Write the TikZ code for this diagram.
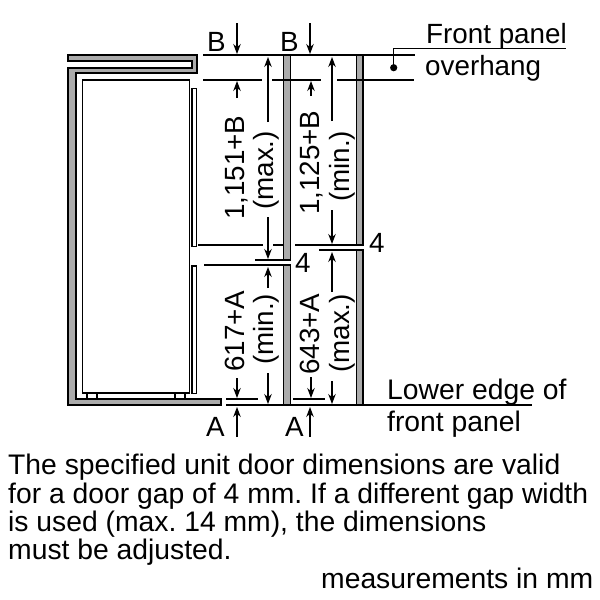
\documentclass[tikz,border=0pt]{standalone}
\usepackage{fontspec}
\setmainfont{Liberation Sans}
\usetikzlibrary{arrows.meta}
\tikzset{
  x=1pt,y=-1pt,
  wall/.style={draw=black,line width=1.6pt,fill=black!33,line join=miter},
  white part/.style={draw=black,line width=1.6pt,fill=white},
  dim/.style={draw=black,line width=1.2pt},
  arr/.style={draw=black,line width=1.1pt,-{Stealth[length=10pt,width=7.5pt]}},
  lab/.style={inner sep=0pt,font=\fontsize{27.8}{30}\selectfont\frenchspacing,anchor=base west,text=black},
  vlab/.style={lab,rotate=90},
  para/.style={lab,font=\fontsize{28.3}{30}\selectfont\frenchspacing},
}
\begin{document}
\begin{tikzpicture}
\useasboundingbox (0,0) rectangle (600,600);
% carcass
\path[wall] (68,55)--(197,55)--(197,72.7)--(76,72.7)--(76,399)--(221,399)--(221,405)--(68,405)--(68,67.7)--(192,67.7)--(192,61)--(68,61)--cycle;
% appliance
\path[white part] (82.5,80) rectangle (189.5,393);
\path[white part] (87,393) rectangle (97,399);
\path[white part] (175,393) rectangle (185,399);
% doors
\path[white part] (192,88.5) rectangle (196.5,246.5);
\path[white part] (192,266) rectangle (196.5,393.5);
% panels
\path[wall] (283.5,55) rectangle (290.5,260);
\path[wall] (283.5,265) rectangle (290.5,405);
\path[wall] (356.5,55) rectangle (363,245);
\path[wall] (356.5,250) rectangle (363,405);
% dimension lines
\coordinate (t1) at (203,55); \coordinate (t2) at (415,55);
\draw[dim] (t1)--(t2);
\draw[dim] (203,80)--(262,80) (272,80)--(321,80) (337,80)--(414,80);
\draw[dim] (198,245)--(263,245) (273,245)--(283,245) (295,245)--(363,245);
\draw[dim] (319,250)--(363,250);
\draw[dim] (255,260)--(291,260);
\draw[dim] (204,265)--(291,265);
\draw[dim] (226,399)--(258,399) (293,399)--(325,399);
\draw[dim] (226,405)--(532,405);
% arrows
\draw[arr] (237,23)--(237,54);
\draw[arr] (310,23)--(310,54);
\draw[arr] (237,98)--(237,81);
\draw[arr] (311,96)--(311,81);
\draw[arr] (268,122)--(268,57);
\draw[arr] (268,217)--(268,259);
\draw[arr] (332,121)--(332,57);
\draw[arr] (332,210)--(332,244);
\draw[arr] (268,288)--(268,267);
\draw[arr] (268,373)--(268,404);
\draw[arr] (332,292)--(332,252);
\draw[arr] (332,381)--(332,404);
\draw[arr] (237,378)--(237,398);
\draw[arr] (311,377)--(311,398);
\draw[arr] (237,437)--(237,407);
\draw[arr] (310,437)--(310,407);
% overhang leader
\fill (393.7,67.7) circle (3.6pt) coordinate (dot);
\draw[dim] (dot)--(393.7,48.3)--(566,48.3);
% labels
\node[lab] (b1) at (207,51) {B};
\node[lab] (b2) at (280,51) {B};
\node[lab] (a1) at (206,436) {A};
\node[lab] (a2) at (285,436) {A};
\node[lab] (f1) at (426,43) {Front panel};
\node[lab] (f2) at (425,75) {overhang};
\node[para] (l1) at (387,399) {Lower edge of};
\node[para] (l2) at (387,431.7) {front panel};
\node[lab] (g1) at (369,252) {4};
\node[lab] (g2) at (295,272) {4};
\node[vlab] (v1) at (244,220) {1,151+B};
\node[vlab] (v2) at (273,210) {(max.)};
\node[vlab] (v3) at (244,372) {617+A};
\node[vlab] (v4) at (273,365) {(min.)};
\node[vlab] (v5) at (319,215) {1,125+B};
\node[vlab] (v6) at (349,202) {(min.)};
\node[vlab] (v7) at (319,375) {643+A};
\node[vlab] (v8) at (349,373) {(max.)};
\node[para] (p1) at (8,474) {The specified unit door dimensions are valid};
\node[para] (p2) at (8,503) {for a door gap of 4 mm. If a different gap width};
\node[para] (p3) at (8,531) {is used (max. 14 mm), the dimensions};
\node[para] (p4) at (8,559) {must be adjusted.};
\node[para] (m) at (321,588) {measurements in mm};
\end{tikzpicture}
\end{document}
